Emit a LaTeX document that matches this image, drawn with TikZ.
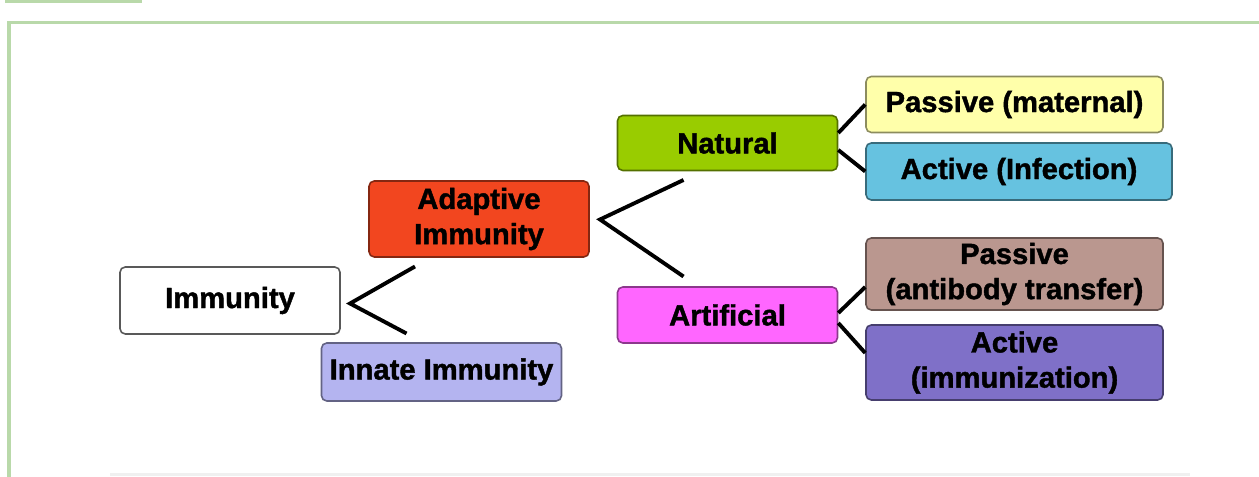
\documentclass[tikz,border=0pt]{standalone}
\usepackage{fontspec}
\setmainfont{Liberation Sans}
\newfontfamily\heavyfont{Liberation Sans Bold}[FakeBold=1.4]
\definecolor{framegreen}{HTML}{B9D9AA}
\definecolor{adaptred}{HTML}{F2461F}
\definecolor{innateblue}{HTML}{B4B4F0}
\definecolor{natgreen}{HTML}{99CC00}
\definecolor{artpink}{HTML}{FF66FF}
\definecolor{pasyellow}{HTML}{FFFFAA}
\definecolor{actcyan}{HTML}{66C2E0}
\definecolor{pasbrown}{HTML}{BA978F}
\definecolor{actpurple}{HTML}{7F70C8}
\begin{document}
\begin{tikzpicture}[
  box/.style={draw=#1!55!black, fill=#1, rounded corners=3pt, line width=0.9pt,
    minimum height=1.16cm, inner sep=0pt, align=center,
    font=\heavyfont\fontsize{16.6}{20}\selectfont},
  link/.style={line width=2.2pt},
  rim/.style={fill=framegreen}
]
  \useasboundingbox (0,0) rectangle (25.18,9.54);
  \fill[rim] (0.10,9.48) rectangle (2.84,9.54);
  \fill[rim] (0.14,9.05) rectangle (25.18,9.12);
  \fill[rim] (0.14,0) rectangle (0.22,9.12);
  \fill[gray!12] (2.20,0.02) rectangle (23.80,0.08);

  \node[box=white, draw=black!65, minimum width=4.4cm, minimum height=1.34cm] (imm) at (4.60,3.53) {Immunity};
  \node[box=adaptred, minimum width=4.4cm, minimum height=1.52cm] (adapt) at (9.58,5.16) {Adaptive\\Immunity};
  \node[box=innateblue, minimum width=4.8cm] (innate) at (8.83,2.10) {Innate Immunity};
  \node[box=natgreen, minimum width=4.4cm, minimum height=1.1cm] (nat) at (14.55,6.68) {Natural};
  \node[box=artpink, minimum width=4.4cm, minimum height=1.12cm] (art) at (14.55,3.24) {Artificial};
  \node[box=pasyellow, minimum width=5.94cm, minimum height=1.12cm] (pmat) at (20.29,7.45) {Passive (maternal)};
  \node[box=actcyan, minimum width=6.12cm, minimum height=1.14cm] (ainf) at (20.38,6.11) {Active (Infection)};
  \node[box=pasbrown, minimum width=5.94cm, minimum height=1.44cm] (pab) at (20.29,4.06) {Passive\\(antibody transfer)};
  \node[box=actpurple, minimum width=5.94cm, minimum height=1.5cm] (aimm) at (20.29,2.29) {Active\\(immunization)};

  \coordinate (immfork) at (7.00,3.47);
  \coordinate (immup) at (8.30,4.21);
  \coordinate (immdown) at (8.13,2.87);
  \coordinate (adaptfork) at (12.00,5.15);
  \coordinate (adaptup) at (13.67,5.94);
  \coordinate (adaptdown) at (13.67,4.01);

  \draw[link] (immup) -- (immfork) -- (immdown);
  \draw[link] (adaptup) -- (adaptfork) -- (adaptdown);
  \draw[link] ([yshift=0.2cm]nat.east) -- (pmat.west);
  \draw[link] ([yshift=-0.14cm]nat.east) -- (ainf.west);
  \draw[link] ([yshift=0.04cm]art.east) -- ([yshift=-0.26cm]pab.west);
  \draw[link] ([yshift=-0.16cm]art.east) -- ([yshift=0.19cm]aimm.west);
\end{tikzpicture}
\end{document}
